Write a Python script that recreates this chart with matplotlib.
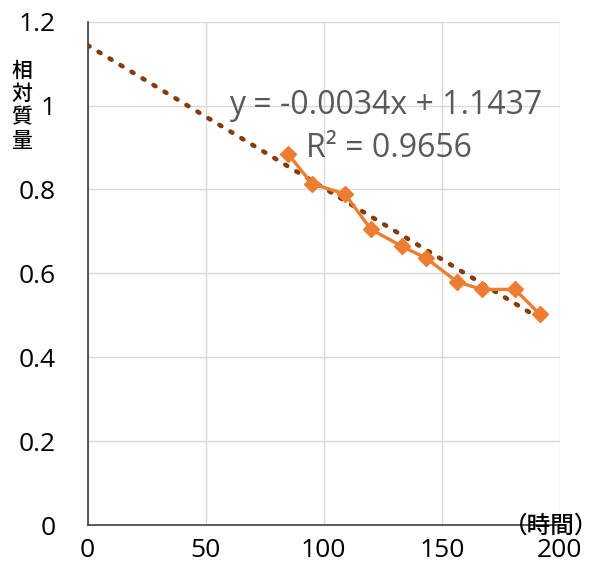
import matplotlib
matplotlib.use("Agg")
import matplotlib.pyplot as plt
import numpy as np

hours = [85, 95, 109, 120, 133, 143.5, 156.5, 167, 181, 191.5]
rel_mass = [0.884, 0.814, 0.789, 0.705, 0.665, 0.636, 0.580, 0.562, 0.562, 0.503]
slope = -0.0034
intercept = 1.1437
r2 = 0.9656
x_ticks = [0, 50, 100, 150, 200]
y_ticks = [0, 0.2, 0.4, 0.6, 0.8, 1.0, 1.2]
y_tick_labels = ["0", "0.2", "0.4", "0.6", "0.8", "1", "1.2"]

plt.rcParams['font.family'] = ['Open Sans', 'Noto Sans CJK JP', 'DejaVu Sans']

fig = plt.figure(figsize=(6, 5.77), dpi=100)
ax = fig.add_axes([0.146, 0.0896, 0.787, 0.873])

ax.set_xlim(0, 200)
ax.set_ylim(0, 1.2)
ax.set_xticks(x_ticks)
ax.set_yticks(y_ticks)
ax.set_yticklabels(y_tick_labels)
ax.grid(True, color="#D9D9D9", linewidth=1)
ax.set_axisbelow(True)
for s in ["top", "right"]:
    ax.spines[s].set_visible(False)
for s in ["left", "bottom"]:
    ax.spines[s].set_color("#404040")
    ax.spines[s].set_linewidth(1.2)
ax.tick_params(length=0, labelsize=19, colors="black")
ax.tick_params(axis="y", pad=23)
ax.tick_params(axis="x", pad=9)

tx = np.array([0, max(hours)])
ax.plot(tx, slope * tx + intercept, linestyle=(0, (0.5, 2.3)), color="#843C0C",
        linewidth=3.3, dash_capstyle="round", zorder=2)
ax.plot(hours, rel_mass, color="#ED7D31", linewidth=2.4, marker="D", markersize=8.5,
        zorder=3, clip_on=False)

eq = f"y = {slope:.4f}x + {intercept:.4f}"
ax.text(126.4, 1.0, eq, fontsize=23, color="#595959", ha="center", va="center")
ax.text(127.7, 0.898, f"R² = {r2:.4f}", fontsize=23, color="#595959",
        ha="center", va="center")

fig.text(22 / 600, 1 - 106 / 577, "相\n対\n質\n量", fontsize=15, fontweight="medium",
         family=['Noto Sans CJK JP'], ha="center", va="center", linespacing=1.08)
fig.text(598 / 600, 1 - 526 / 577, "（時間）", fontsize=17, fontweight="medium",
         family=['Noto Sans CJK JP'], ha="right", va="center")

fig.savefig("out.png", dpi=100)
